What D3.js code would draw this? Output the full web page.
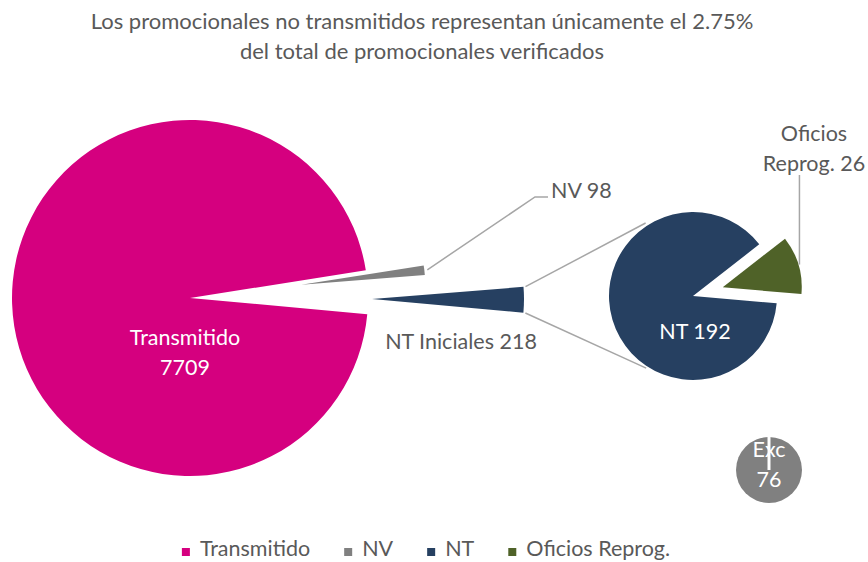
<!DOCTYPE html>
<html>
<head>
<meta charset="utf-8">
<script src="https://cdn.jsdelivr.net/npm/d3@7"></script>
<style>
  body { margin: 0; background: #fff; }
  svg { display: block; font-family: Lato, "Open Sans", sans-serif; }
</style>
</head>
<body>
<div id="chart"></div>
<script>
// main pie
const mainCategories = ["Transmitido", "NV", "NT Iniciales"];
const mainValues = [7709, 98, 218];
// second pie (breakdown of NT Iniciales)
const subCategories = ["NT", "Oficios Reprog."];
const subValues = [192, 26];
// small pie
const excCategories = ["Exc"];
const excValues = [76];

const legendLabels = ["Transmitido", "NV", "NT", "Oficios Reprog."];
const titleLines = [
    "Los promocionales no transmitidos representan únicamente el 2.75%",
    "del total de promocionales verificados"
];

const colors = {
    "Transmitido": "#d5007f",
    "NV": "#808080",
    "NT Iniciales": "#264061",
    "NT": "#264061",
    "Oficios Reprog.": "#4f6228",
    "Exc": "#808080"
};
const labelColor = "#595959";
const lineColor = "#a6a6a6";
const deg = Math.PI / 180;

const width = 868, height = 562;

const svg = d3.select("#chart")
    .append("svg")
    .attr("width", width)
    .attr("height", height);

// title
svg.append("g")
    .selectAll("text")
    .data(titleLines)
    .join("text")
    .attr("x", 422)
    .attr("y", (d, i) => 29 + i * 30)
    .attr("text-anchor", "middle")
    .attr("font-size", 22)
    .attr("fill", labelColor)
    .text(d => d);

// helper: point along an angle (clockwise from 12 o'clock)
const dir = a => [Math.sin(a), -Math.cos(a)];

// draws one exploded pie, returns slice geometry
function drawPie(g, cats, vals, startDeg, radii, explode) {
    const pie = d3.pie().sort(null)
        .startAngle(startDeg * deg)
        .endAngle(startDeg * deg + 2 * Math.PI);
    const arcs = pie(vals).map((d, i) => {
        const mid = (d.startAngle + d.endAngle) / 2;
        const [ux, uy] = dir(mid);
        return Object.assign(d, {
            cat: cats[i], r: radii[i],
            ox: ux * explode[i], oy: uy * explode[i], mid
        });
    });
    g.selectAll("path")
        .data(arcs)
        .join("path")
        .attr("transform", d => `translate(${d.ox},${d.oy})`)
        .attr("d", d => d3.arc().innerRadius(0).outerRadius(d.r)(d))
        .attr("fill", d => colors[d.cat]);
    return arcs;
}

// main pie
const mainCenter = [190, 298];
const gMain = svg.append("g").attr("transform", `translate(${mainCenter})`);
const mainArcs = drawPie(gMain, mainCategories, mainValues, 95.2, [178, 124, 152], [0, 112, 182]);

// second pie
const subCenter = [693, 296];
const gSub = svg.append("g").attr("transform", `translate(${subCenter})`);
const subArcs = drawPie(gSub, subCategories, subValues, 95, [84, 79], [0, 31]);

// small pie
const excCenter = [769, 470];
const gExc = svg.append("g").attr("transform", `translate(${excCenter})`);
const excArcs = drawPie(gExc, excCategories, excValues, 0, [33], [0]);
const excTop = d3.pointRadial(excArcs[0].startAngle, 33);
gExc.append("line")
    .attr("x1", 0).attr("y1", 0)
    .attr("x2", excTop[0]).attr("y2", excTop[1])
    .attr("stroke", "#fff")
    .attr("stroke-width", 3);

// leader lines
function slicePoint(center, d, angle, r) {
    const [ux, uy] = dir(angle);
    return [center[0] + d.ox + ux * r, center[1] + d.oy + uy * r];
}
const nv = mainArcs[1], nti = mainArcs[2], ofi = subArcs[1];
const lines = [];
const nvStart = slicePoint(mainCenter, nv, nv.mid, nv.r + 3);
lines.push([nvStart, [535, 197], [548, 197]]);
lines.push([slicePoint(mainCenter, nti, nti.startAngle, nti.r + 2), slicePoint(subCenter, subArcs[0], 327 * deg, 87)]);
lines.push([slicePoint(mainCenter, nti, nti.endAngle, nti.r + 2), slicePoint(subCenter, subArcs[0], 213 * deg, 86)]);
const ofStart = slicePoint(subCenter, ofi, ofi.mid, ofi.r + 1);
lines.push([ofStart, [ofStart[0], 175]]);

svg.append("g")
    .selectAll("path")
    .data(lines)
    .join("path")
    .attr("d", d => d3.line()(d))
    .attr("fill", "none")
    .attr("stroke", lineColor)
    .attr("stroke-width", 1.5);

// data labels
const labels = [
    { lines: ["Transmitido", String(mainValues[0])], x: 185, y: 345, fill: "#fff", anchor: "middle" },
    { lines: ["NV " + mainValues[1]], x: 551, y: 198, fill: labelColor, anchor: "start" },
    { lines: ["NT Iniciales " + mainValues[2]], x: 461, y: 349, fill: labelColor, anchor: "middle" },
    { lines: ["NT " + subValues[0]], x: 695, y: 339, fill: "#fff", anchor: "middle" },
    { lines: ["Oficios", "Reprog. " + subValues[1]], x: 814, y: 141, fill: labelColor, anchor: "middle" },
    { lines: [excCategories[0], String(excValues[0])], x: 769, y: 457, fill: "#fff", anchor: "middle" }
];
labels.forEach(l => {
    svg.append("g")
        .selectAll("text")
        .data(l.lines)
        .join("text")
        .attr("x", l.x)
        .attr("y", (d, i) => l.y + i * 30)
        .attr("text-anchor", l.anchor)
        .attr("font-size", 21.5)
        .attr("fill", l.fill)
        .text(d => d);
});

// legend
const legend = svg.append("g");
const legendColors = ["Transmitido", "NV", "NT", "Oficios Reprog."].map(c => colors[c]);
const items = legend.selectAll("g")
    .data(legendLabels)
    .join("g");
items.append("rect")
    .attr("y", 548)
    .attr("width", 8)
    .attr("height", 8)
    .attr("fill", (d, i) => legendColors[i]);
items.append("text")
    .attr("x", 18)
    .attr("y", 556)
    .attr("font-size", 21.5)
    .attr("fill", labelColor)
    .text(d => d);
let xPos = 0;
const offsets = [];
items.each(function () {
    offsets.push(xPos);
    xPos += 18 + d3.select(this).select("text").node().getComputedTextLength() + 34;
});
const total = xPos - 34;
const startX = 426 - total / 2;
items.attr("transform", (d, i) => `translate(${startX + offsets[i]},0)`);
</script>
</body>
</html>
